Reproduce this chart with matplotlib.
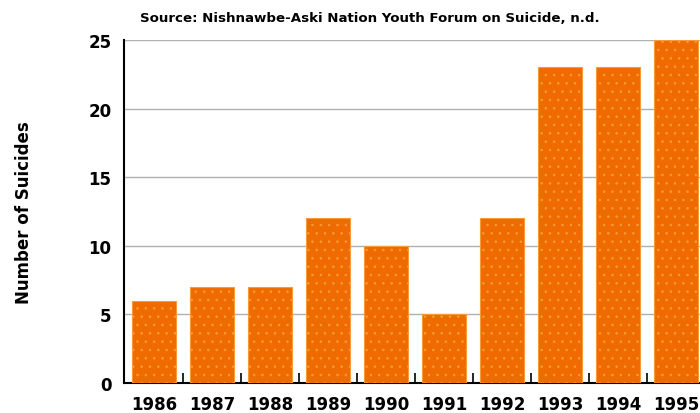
import numpy as np
import matplotlib.pyplot as plt

years = ["1986", "1987", "1988", "1989", "1990", "1991", "1992", "1993", "1994", "1995"]
suicides = [6, 7, 7, 12, 10, 5, 12, 23, 23, 25]

plt.rcParams['hatch.linewidth'] = 0.6

fig = plt.figure(figsize=(7, 4.14), dpi=100)
ax = fig.add_axes([0.177, 0.0725, 0.83, 0.8285])

x = np.arange(len(years))
ax.bar(x, suicides, width=0.76, color='#ef6b00', edgecolor='#f79a3c',
       linewidth=0.8, hatch='..', zorder=3)

ax.set_xlim(-0.52, 9.5)
ax.set_ylim(0, 25)
ax.set_yticks([0, 5, 10, 15, 20, 25])
ax.set_xticks(x)
ax.set_xticklabels(years)
ax.set_xticks(x[:-1] + 0.5, minor=True)
ax.tick_params(axis='x', which='major', length=0, pad=9)
ax.tick_params(axis='x', which='minor', direction='in', length=7, width=1.2)
ax.tick_params(axis='y', length=0, pad=9)
for lab in ax.get_xticklabels() + ax.get_yticklabels():
    lab.set_fontweight('bold')
    lab.set_fontsize(12)

ax.grid(axis='y', color='#b0b0b0', linewidth=1, zorder=0)
for s in ['top', 'right']:
    ax.spines[s].set_visible(False)
ax.spines['left'].set_linewidth(1.5)
ax.spines['bottom'].set_linewidth(1.5)

ax.set_ylabel("Number of Suicides", fontsize=12, fontweight='bold', labelpad=40)
fig.text(0.2, 0.955, "Source: Nishnawbe-Aski Nation Youth Forum on Suicide, n.d.",
         fontsize=9.6, fontweight='bold', va='center')

fig.savefig("out.png", dpi=100)
